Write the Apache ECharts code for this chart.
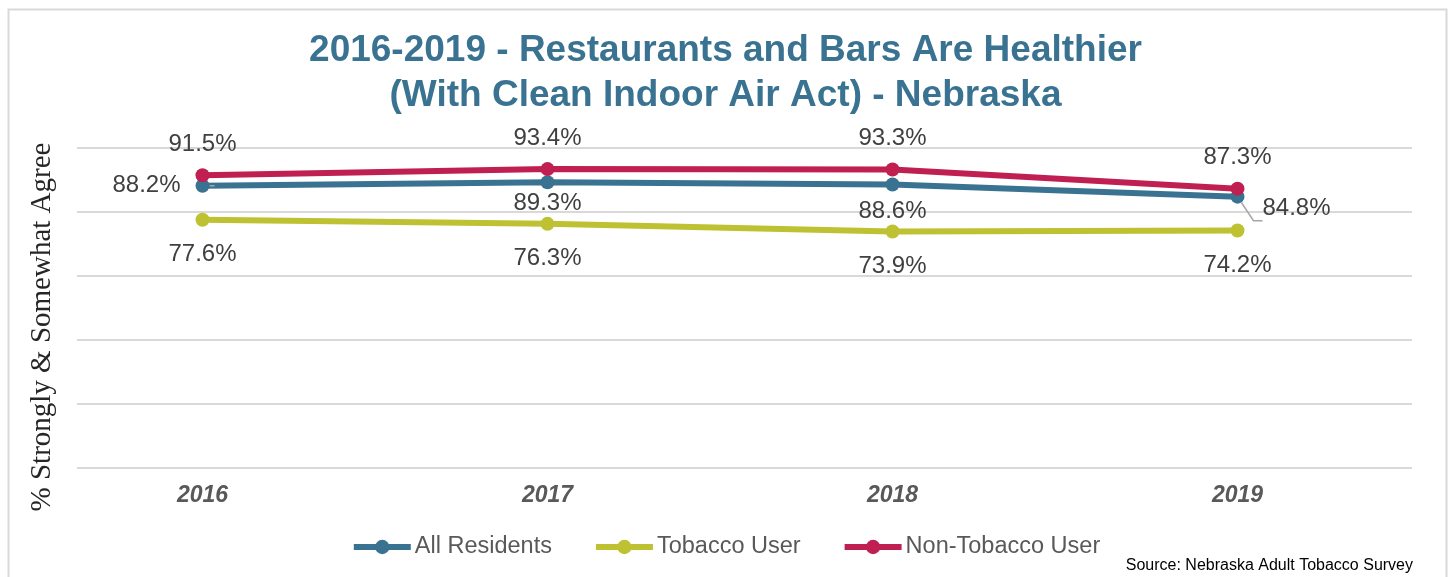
<!DOCTYPE html>
<html>
<head>
<meta charset="utf-8">
<script src="https://cdn.jsdelivr.net/npm/echarts@6/dist/echarts.min.js"></script>
<style>
  html, body { margin: 0; padding: 0; background: #ffffff; }
  #chart { width: 1451px; height: 577px; }
</style>
</head>
<body>
<div id="chart"></div>
<script>
// Survey years and percentages (strongly + somewhat agree)
const years = ['2016', '2017', '2018', '2019'];
const allResidents = [88.2, 89.3, 88.6, 84.8];
const tobaccoUser = [77.6, 76.3, 73.9, 74.2];
const nonTobaccoUser = [91.5, 93.4, 93.3, 87.3];

const titleLines = ['2016-2019 - Restaurants and Bars Are Healthier', '(With Clean Indoor Air Act) - Nebraska'];
const yAxisTitle = '% Strongly & Somewhat Agree';
const sourceNote = 'Source: Nebraska Adult Tobacco Survey';

const COLORS = { all: '#3A7391', tob: '#BEC232', non: '#C01F52' };
const SANS = 'Liberation Sans, Arial, sans-serif';
const LABEL_FONT = { fontFamily: SANS, fontSize: 24, color: '#404040' };

const pct = v => v.toFixed(1) + '%';

// per-point label placement for the "All Residents" line
const allLabelPlacement = [
  { position: 'left', distance: 15, line: true, bend: 0 },
  { position: 'bottom', distance: 2 },
  { position: 'bottom', distance: 8 },
  { position: 'right', distance: 18, offset: [0, 12], line: true, bend: 9 }
];

const allData = allResidents.map((v, i) => {
  const p = allLabelPlacement[i];
  const item = {
    value: v,
    label: { position: p.position, distance: p.distance }
  };
  if (p.offset) item.label.offset = p.offset;
  if (p.line) item.labelLine = { show: true, length2: p.bend, lineStyle: { color: '#A6A6A6', width: 1.5 } };
  return item;
});

const chart = echarts.init(document.getElementById('chart'));

const lineSeries = (name, data, color, pos, dist) => ({
  name,
  type: 'line',
  xAxisIndex: 1,
  yAxisIndex: 1,
  data,
  symbol: 'circle',
  symbolSize: 14,
  lineStyle: { width: 6, color },
  itemStyle: { color },
  label: Object.assign({ show: true, position: pos, distance: dist, formatter: p => pct(p.value) }, LABEL_FONT),
  emphasis: { disabled: true },
  z: 3
});

chart.setOption({
  animation: false,
  backgroundColor: '#ffffff',
  title: {
    text: titleLines.join('\n'),
    left: 'center',
    top: 23,
    textStyle: {
      fontFamily: SANS,
      fontSize: 37,
      fontWeight: 'bold',
      color: '#3A7391',
      lineHeight: 45
    }
  },
  legend: {
    left: 'center',
    top: 530,
    itemGap: 41,
    itemWidth: 57,
    itemHeight: 18,
    lineStyle: { width: 6 },
    textStyle: { fontFamily: SANS, fontSize: 23.5, color: '#595959', padding: [0, 0, 0, -1] },
    data: ['All Residents', 'Tobacco User', 'Non-Tobacco User']
  },
  grid: [
    // horizontal guide lines
    { left: 77, right: 39, top: 148, bottom: 109 },
    // plotted series
    { left: 30, right: 41, top: 148, bottom: 109 }
  ],
  xAxis: [
    { gridIndex: 0, type: 'category', data: years, show: false },
    {
      gridIndex: 1,
      type: 'category',
      data: years,
      boundaryGap: true,
      axisLine: { show: false },
      axisTick: { show: false },
      axisLabel: {
        margin: 16,
        fontFamily: SANS,
        fontSize: 23,
        fontWeight: 'bold',
        fontStyle: 'italic',
        color: '#595959'
      }
    }
  ],
  yAxis: [
    {
      gridIndex: 0,
      type: 'value',
      min: 0, max: 100, interval: 20,
      axisLine: { show: false },
      axisTick: { show: false },
      axisLabel: { show: false },
      splitLine: { show: true, lineStyle: { color: '#D9D9D9', width: 2 } }
    },
    {
      gridIndex: 1,
      type: 'value',
      min: 0, max: 100, interval: 20,
      axisLine: { show: false },
      axisTick: { show: false },
      axisLabel: { show: false },
      splitLine: { show: false }
    }
  ],
  series: [
    lineSeries('All Residents', allData, COLORS.all, 'bottom', 2),
    lineSeries('Tobacco User', tobaccoUser, COLORS.tob, 'bottom', 16),
    lineSeries('Non-Tobacco User', nonTobaccoUser, COLORS.non, 'top', 12)
  ],
  graphic: [
    {
      type: 'rect',
      left: 6, top: 7,
      shape: { width: 1438, height: 600 },
      style: { fill: 'none', stroke: '#D9D9D9', lineWidth: 2 },
      silent: true
    },
    {
      // vertical axis title
      type: 'text',
      x: 42, y: 327,
      rotation: Math.PI / 2,
      style: {
        text: yAxisTitle,
        fontFamily: 'Liberation Serif, Times New Roman, serif',
        fontSize: 29,
        fill: '#262626',
        textAlign: 'center',
        textVerticalAlign: 'middle'
      }
    },
    {
      type: 'text',
      right: 38, top: 558,
      style: { text: sourceNote, fontFamily: SANS, fontSize: 16, fill: '#000000' }
    }
  ]
});
</script>
</body>
</html>
